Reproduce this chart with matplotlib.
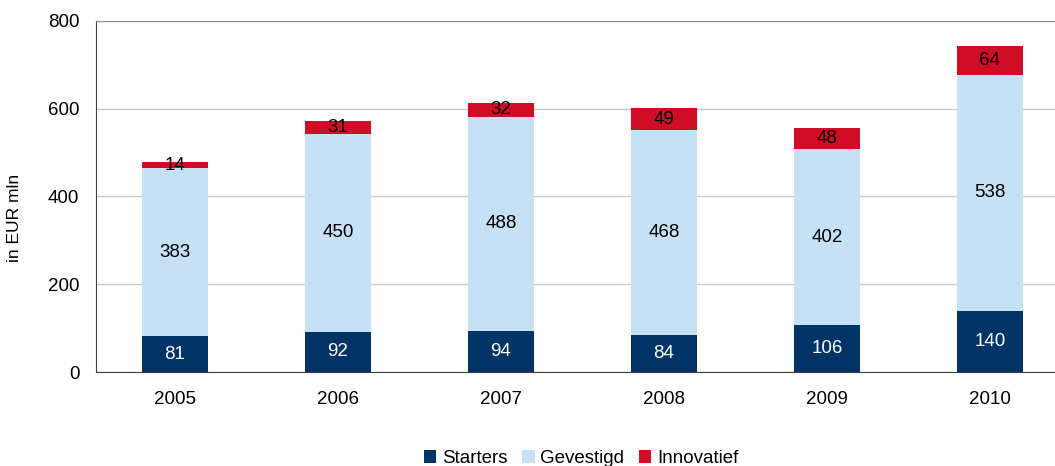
import matplotlib
matplotlib.use("Agg")
import matplotlib.pyplot as plt
import numpy as np

plt.rcParams["font.family"] = ["Liberation Sans", "DejaVu Sans"]

years = ["2005", "2006", "2007", "2008", "2009", "2010"]
starters = [81, 92, 94, 84, 106, 140]
gevestigd = [383, 450, 488, 468, 402, 538]
innovatief = [14, 31, 32, 49, 48, 64]

c_start = "#003366"
c_gev = "#C6E1F5"
c_inn = "#D00C27"

fig = plt.figure(figsize=(10.55, 4.66), dpi=100)
ax = fig.add_axes([0.091, 0.2017, 0.909, 0.7533])

x = np.arange(len(years))
w = 0.405
s = np.array(starters)
g = np.array(gevestigd)
i = np.array(innovatief)

ax.bar(x, s, w, color=c_start, label="Starters", zorder=3)
ax.bar(x, g, w, bottom=s, color=c_gev, label="Gevestigd", zorder=3)
ax.bar(x, i, w, bottom=s + g, color=c_inn, label="Innovatief", zorder=3)

fs = 13.5
for k in range(len(x)):
    ax.text(x[k], s[k] / 2, str(s[k]), ha="center", va="center",
            color="white", fontsize=fs, zorder=4)
    ax.text(x[k], s[k] + g[k] / 2, str(g[k]), ha="center", va="center",
            color="black", fontsize=fs, zorder=4)
    ax.text(x[k], s[k] + g[k] + i[k] / 2, str(i[k]), ha="center", va="center",
            color="black", fontsize=fs, zorder=4)

ax.set_xlim(-0.485, 5.4)
ax.set_ylim(0, 800)
ax.set_yticks([0, 200, 400, 600, 800])
ax.set_xticks(x)
ax.set_xticklabels(years)
ax.tick_params(axis="both", length=0, labelsize=fs, pad=12)
ax.tick_params(axis="x", pad=14)
ax.yaxis.grid(True, color="#C8C8C8", linewidth=1, zorder=0)
ax.spines["right"].set_visible(False)
ax.spines["top"].set_color("#909090")
ax.spines["left"].set_color("#404040")
ax.spines["bottom"].set_color("#404040")
ax.set_ylabel("in EUR mln", fontsize=12.5)
ax.yaxis.set_label_coords(-0.077, 0.44)

fig.legend(loc="lower center", bbox_to_anchor=(0.551, -0.038), ncol=3, frameon=False,
           fontsize=fs, handlelength=0.65, handleheight=0.65, handletextpad=0.3,
           columnspacing=0.8)

fig.savefig("out.png", dpi=100)
